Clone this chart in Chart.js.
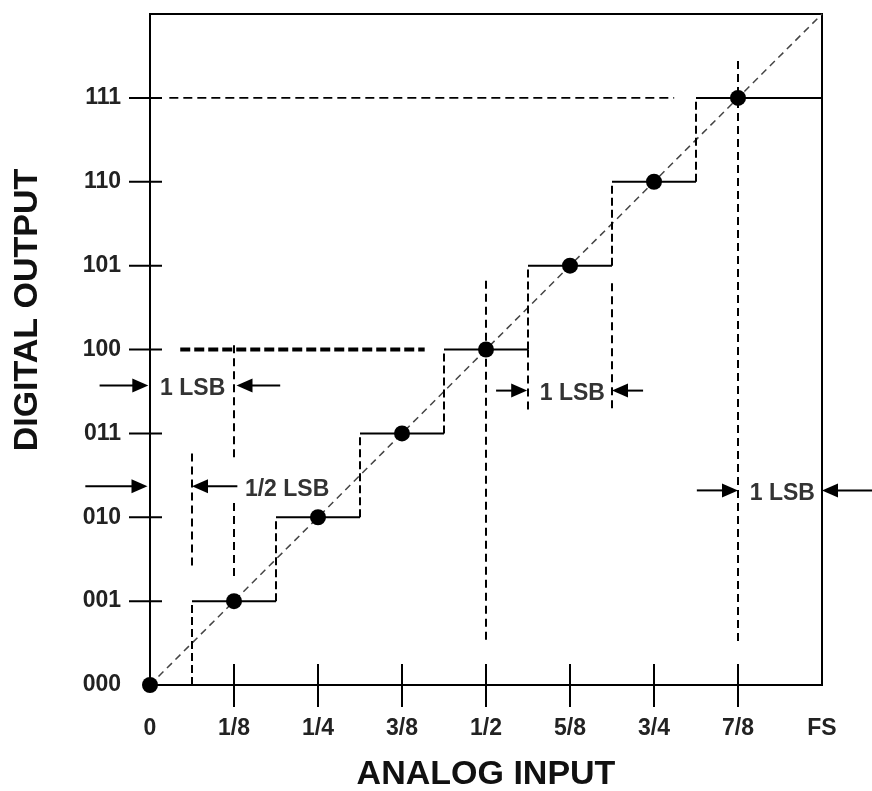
<!DOCTYPE html>
<html><head><meta charset="utf-8">
<script src="https://cdn.jsdelivr.net/npm/chart.js@4.4.1/dist/chart.umd.min.js"></script>
<style>html,body{margin:0;padding:0;background:#fff;}</style>
</head><body>
<canvas id="c" width="872" height="791"></canvas>
<script>
// ---- data (x in 1/8 FS units, y in output codes) ----
const xTickLabels = ['0','1/8','1/4','3/8','1/2','5/8','3/4','7/8','FS'];
const yTickLabels = ['000','001','010','011','100','101','110','111'];
const codeInput  = [0,1,2,3,4,5,6,7];
const codeOutput = [0,1,2,3,4,5,6,7];
const stepStart = [0.5,1.5,2.5,3.5,4.5,5.5,6.5];
const stepEnd   = [1.5,2.5,3.5,4.5,5.5,6.5,8];
const stepLevel = [1,2,3,4,5,6,7];
const idealX = [0,8];
const idealY = [0,8];
// dashed guide lines
const guideHy  = [7];
const guideHx0 = [0.23];
const guideHx1 = [6.24];
const heavyHy  = [4];
const heavyHx0 = [0.36];
const heavyHx1 = [3.27];
const guideVx  = [1, 1, 0.5, 4, 4.5, 5.5, 7];
const guideVy0 = [4.05, 2.17, 2.76, 4.82, 4, 4.79, 7.44];
const guideVy1 = [2.68, 1.25, 1.37, 0.48, 3.24, 3.24, 0.48];
// LSB annotations
const lsbText   = ['1 LSB','1/2 LSB','1 LSB','1 LSB'];
const lsbY      = [3.57, 2.37, 3.51, 2.32];
const lsbTextX  = [0.12, 1.13, 4.64, 7.14];
const arrRFrom  = [-0.6, -0.77, 4.12, 6.51];
const arrRTo    = [-0.02, -0.03, 4.49, 7.0];
const arrLFrom  = [1.55, 1.04, 5.87, 8.6];
const arrLTo    = [1.03, 0.5, 5.5, 8.0];

// ---- build datasets ----
const stairH = [];
stepStart.forEach((s,i)=>{ stairH.push({x:s,y:stepLevel[i]},{x:stepEnd[i],y:stepLevel[i]},{x:stepEnd[i],y:null}); });
const stairV = [];
stepStart.forEach((s,i)=>{ stairV.push({x:s,y:stepLevel[i]-1},{x:s,y:stepLevel[i]},{x:s,y:null}); });
const guideV = [];
guideVx.forEach((x,i)=>{ guideV.push({x:x,y:guideVy0[i]},{x:x,y:guideVy1[i]},{x:x,y:null}); });
const guideH = [];
guideHy.forEach((y,i)=>{ guideH.push({x:guideHx0[i],y:y},{x:guideHx1[i],y:y},{x:null,y:null}); });
const heavyH = [];
heavyHy.forEach((y,i)=>{ heavyH.push({x:heavyHx0[i],y:y},{x:heavyHx1[i],y:y}); });
const ideal = idealX.map((x,i)=>({x:x,y:idealY[i]}));
const codePts = codeInput.map((x,i)=>({x:x,y:codeOutput[i]}));

const FONT = "'Liberation Sans', Arial, sans-serif";
const lineDs = (data, color, width, dash, order) => ({
  type:'line', data, borderColor:color, borderWidth:width, borderDash:dash,
  pointRadius:0, fill:false, spanGaps:false, tension:0, order, clip:false
});

const deco = {
  id:'deco',
  beforeDatasetsDraw(chart){
    const {ctx, chartArea:a, scales:{x,y}} = chart;
    ctx.save();
    ctx.strokeStyle='#000'; ctx.lineWidth=2;
    ctx.strokeRect(a.left, a.top, a.right-a.left, a.bottom-a.top);
    ctx.beginPath();
    for(let i=1;i<yTickLabels.length;i++){ const py=y.getPixelForValue(i); ctx.moveTo(a.left-21,py); ctx.lineTo(a.left+12,py); }
    for(let i=1;i<xTickLabels.length-1;i++){ const px=x.getPixelForValue(i); ctx.moveTo(px,a.bottom-21); ctx.lineTo(px,a.bottom+22); }
    ctx.stroke();
    ctx.restore();
  },
  afterDatasetsDraw(chart){
    const {ctx, chartArea:a, scales:{x,y}} = chart;
    ctx.save();
    const arrow=(x0,py,x1)=>{
      const dir = Math.sign(x1-x0);
      ctx.beginPath(); ctx.moveTo(x0,py); ctx.lineTo(x1-dir*12,py); ctx.lineWidth=2; ctx.strokeStyle='#000'; ctx.stroke();
      ctx.beginPath(); ctx.moveTo(x1,py); ctx.lineTo(x1-dir*16,py-7); ctx.lineTo(x1-dir*16,py+7); ctx.closePath(); ctx.fillStyle='#000'; ctx.fill();
    };
    lsbText.forEach((t,i)=>{
      const py=y.getPixelForValue(lsbY[i]);
      arrow(x.getPixelForValue(arrRFrom[i]),py,x.getPixelForValue(arrRTo[i]));
      arrow(x.getPixelForValue(arrLFrom[i]),py,x.getPixelForValue(arrLTo[i]));
      ctx.fillStyle='#333'; ctx.font='bold 23px '+FONT; ctx.textAlign='left'; ctx.textBaseline='middle';
      ctx.fillText(t, x.getPixelForValue(lsbTextX[i]), py+3);
    });
    ctx.fillStyle='#111'; ctx.font='bold 34px '+FONT; ctx.textAlign='center'; ctx.textBaseline='middle';
    ctx.fillText('ANALOG INPUT', (a.left+a.right)/2, 775);
    ctx.translate(28,310); ctx.rotate(-Math.PI/2);
    ctx.fillText('DIGITAL OUTPUT', 0, 0);
    ctx.restore();
  }
};

new Chart(document.getElementById('c'), {
  type:'line',
  data:{ datasets:[
    {type:'line', data:codePts, showLine:false, pointRadius:8, pointHoverRadius:8, pointBackgroundColor:'#000', pointBorderColor:'#000', pointBorderWidth:0, order:0, clip:false},
    lineDs(stairH,'#000',2,[],1),
    lineDs(stairV,'#000',2,[8,4],2),
    lineDs(ideal,'#444',1.5,[7,5],3),
    lineDs(guideV,'#000',2,[8,5],4),
    lineDs(guideH,'#000',1.8,[9,5],5),
    lineDs(heavyH,'#000',4,[10,4],6)
  ]},
  options:{
    responsive:false, animation:false, events:[],
    layout:{padding:{top:14,right:50,bottom:0,left:0}},
    plugins:{legend:{display:false}, tooltip:{enabled:false}},
    scales:{
      x:{type:'linear', min:0, max:8,
        afterFit(s){ s.height=106; s.paddingLeft=0; s.paddingRight=0; },
        afterBuildTicks(s){ s.ticks = xTickLabels.map((_,i)=>({value:i})); },
        ticks:{autoSkip:false, maxRotation:0, padding:30, color:'#222', font:{family:FONT, size:23, weight:'bold'},
          callback:(v)=>xTickLabels[v]},
        grid:{display:false, drawTicks:false}, border:{display:false}},
      y:{type:'linear', min:0, max:8,
        afterFit(s){ s.width=150; s.paddingTop=0; s.paddingBottom=0; },
        afterBuildTicks(s){ s.ticks = yTickLabels.map((_,i)=>({value:i})); },
        ticks:{autoSkip:false, padding:29, color:'#222', font:{family:FONT, size:23, weight:'bold'},
          callback:(v)=>yTickLabels[v]},
        grid:{display:false, drawTicks:false}, border:{display:false}}
    }
  },
  plugins:[deco]
});
</script>
</body></html>
